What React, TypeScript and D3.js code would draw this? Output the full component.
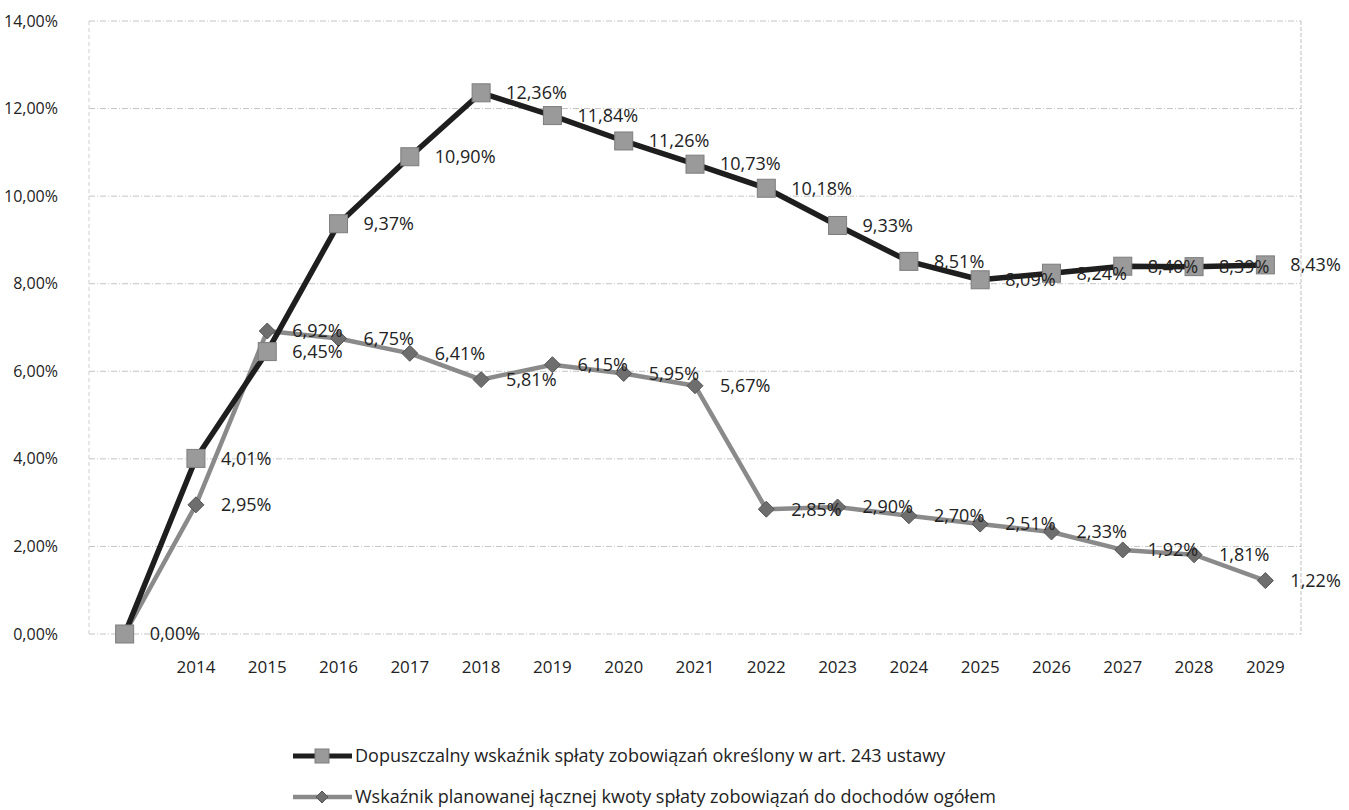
import React from "react";
import * as d3 from "d3";

const categories = ["", "2014", "2015", "2016", "2017", "2018", "2019", "2020", "2021", "2022", "2023", "2024", "2025", "2026", "2027", "2028", "2029"];
const allowedRatio = [0.0, 4.01, 6.45, 9.37, 10.9, 12.36, 11.84, 11.26, 10.73, 10.18, 9.33, 8.51, 8.09, 8.24, 8.4, 8.39, 8.43];
const plannedRatio = [0.0, 2.95, 6.92, 6.75, 6.41, 5.81, 6.15, 5.95, 5.67, 2.85, 2.9, 2.7, 2.51, 2.33, 1.92, 1.81, 1.22];
const yTicks = [0, 2, 4, 6, 8, 10, 12, 14];
const seriesNames = [
  "Dopuszczalny wskaźnik spłaty zobowiązań określony w art. 243 ustawy",
  "Wskaźnik planowanej łącznej kwoty spłaty zobowiązań do dochodów ogółem",
];

const W = 1349;
const H = 810;
const plot = { left: 89, right: 1301, top: 21, bottom: 634 };
const FONT = "'Open Sans', 'Noto Sans', sans-serif";

const fmt = (v: number) => v.toFixed(2).replace(".", ",") + "%";

export default function App() {
  const x = d3.scaleBand<string>().domain(categories.map((c, i) => i + ":" + c)).range([plot.left, plot.right]);
  const cx = (i: number) => (x(i + ":" + categories[i]) as number) + x.bandwidth() / 2;
  const y = d3.scaleLinear().domain([0, 14]).range([plot.bottom, plot.top]);
  const line = d3.line<number>().x((_, i) => cx(i)).y((d) => y(d));

  const square = (px: number, py: number, key: string, s = 18) => (
    <rect key={key} x={px - s / 2} y={py - s / 2} width={s} height={s} fill="#9a9a9a" stroke="#7d7d7d" strokeWidth={1} />
  );
  const diamond = (px: number, py: number, key: string, s = 8) => (
    <path key={key} d={`M${px},${py - s} L${px + s},${py} L${px},${py + s} L${px - s},${py} Z`} fill="#6e6e6e" stroke="#555" strokeWidth={1} />
  );

  return (
    <svg width={W} height={H} style={{ position: "absolute", left: 0, top: 0, background: "#fff" }} fontFamily={FONT}>
      {/* grid */}
      {yTicks.map((t) => (
        <line key={"g" + t} x1={plot.left} x2={plot.right} y1={y(t)} y2={y(t)} stroke="#c4c4c4" strokeWidth={1} strokeDasharray="6 2 1 2" />
      ))}
      <line x1={plot.left} x2={plot.left} y1={plot.top} y2={plot.bottom} stroke="#cfcfcf" strokeDasharray="4 3" />
      <line x1={plot.right} x2={plot.right} y1={plot.top} y2={plot.bottom} stroke="#bdbdbd" strokeDasharray="4 2" />

      {/* y axis labels */}
      {yTicks.map((t) => (
        <text key={"yl" + t} x={58} y={y(t)} dy="0.35em" textAnchor="end" fontSize={16} fill="#222">
          {fmt(t)}
        </text>
      ))}

      {/* category labels */}
      {categories.map((c, i) => (
        <text key={"xl" + i} x={cx(i)} y={673} textAnchor="middle" fontSize={17} fill="#222">
          {c}
        </text>
      ))}

      {/* lines */}
      <path d={line(plannedRatio) as string} fill="none" stroke="#8a8a8a" strokeWidth={4.5} strokeLinejoin="round" />
      <path d={line(allowedRatio) as string} fill="none" stroke="#1e1e1e" strokeWidth={5.5} strokeLinejoin="round" />

      {/* markers */}
      {plannedRatio.map((v, i) => diamond(cx(i), y(v), "d" + i))}
      {allowedRatio.map((v, i) => square(cx(i), y(v), "s" + i))}

      {/* data labels */}
      {allowedRatio.map((v, i) => (
        <text key={"al" + i} x={cx(i) + 25} y={y(v)} dy="0.35em" fontSize={18} fill="#222">
          {fmt(v)}
        </text>
      ))}
      {plannedRatio.map((v, i) =>
        i === 0 ? null : (
          <text key={"pl" + i} x={cx(i) + 25} y={y(v)} dy="0.35em" fontSize={18} fill="#222">
            {fmt(v)}
          </text>
        )
      )}

      {/* legend */}
      <g>
        <line x1={293} x2={352} y1={756} y2={756} stroke="#1e1e1e" strokeWidth={5} />
        {square(322, 756, "lg1", 14)}
        <text x={355} y={756} dy="0.35em" fontSize={18} fill="#222">{seriesNames[0]}</text>
        <line x1={293} x2={352} y1={797} y2={797} stroke="#8a8a8a" strokeWidth={4.5} />
        {diamond(322, 797, "lg2", 6)}
        <text x={355} y={797} dy="0.35em" fontSize={18} fill="#222">{seriesNames[1]}</text>
      </g>
    </svg>
  );
}
